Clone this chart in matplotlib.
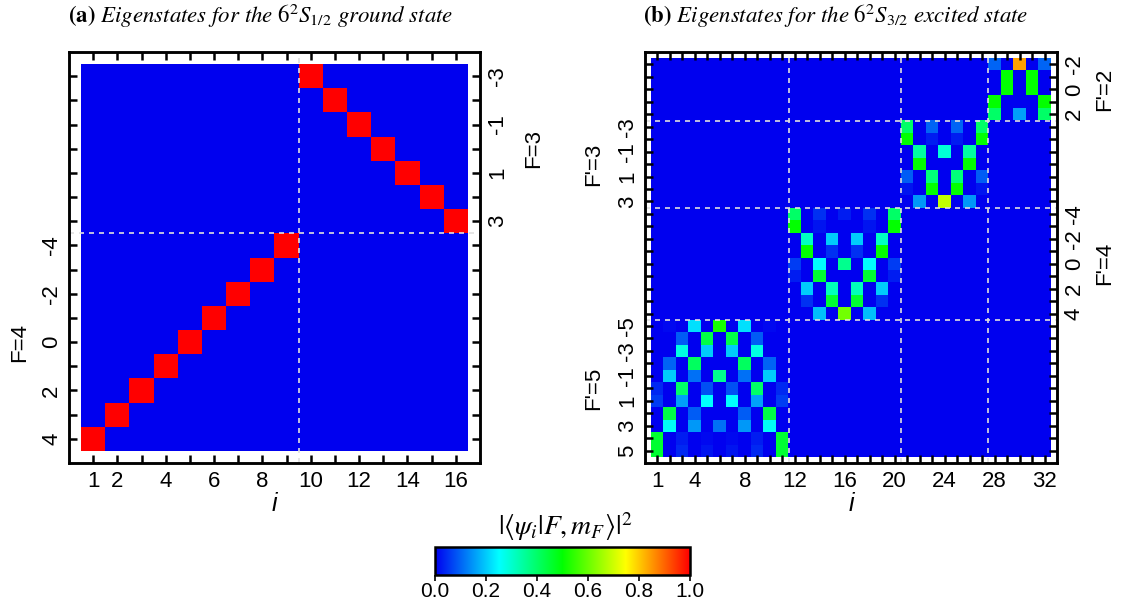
import numpy as np
import matplotlib
matplotlib.use('Agg')
import matplotlib.pyplot as plt
from matplotlib.colors import LinearSegmentedColormap

plt.rcParams['font.family'] = ['Liberation Sans', 'DejaVu Sans']
plt.rcParams['mathtext.fontset'] = 'stix'

# ground state (a): eigenstate i sits on one basis row (1 = bottom) with weight 1
ground_rows = [1, 2, 3, 4, 5, 6, 7, 8, 9, 16, 15, 14, 13, 12, 11, 10]
ground_vals = [1.0, 1.0, 1.0, 1.0, 1.0, 1.0, 1.0, 1.0, 1.0,
               1.0, 1.0, 1.0, 1.0, 1.0, 1.0, 1.0]

# excited state (b): blocks, top row (most negative m) first
block_f5 = [
    [0.00, 0.01, 0.00, 0.22, 0.00, 0.52, 0.00, 0.22, 0.00, 0.01, 0.00],
    [0.00, 0.00, 0.09, 0.00, 0.43, 0.00, 0.43, 0.00, 0.09, 0.00, 0.00],
    [0.00, 0.00, 0.28, 0.00, 0.20, 0.00, 0.20, 0.00, 0.28, 0.00, 0.00],
    [0.00, 0.10, 0.00, 0.41, 0.00, 0.00, 0.00, 0.41, 0.00, 0.10, 0.00],
    [0.00, 0.20, 0.00, 0.11, 0.00, 0.36, 0.00, 0.11, 0.00, 0.20, 0.00],
    [0.04, 0.00, 0.40, 0.00, 0.08, 0.00, 0.08, 0.00, 0.40, 0.00, 0.04],
    [0.06, 0.00, 0.16, 0.00, 0.25, 0.00, 0.25, 0.00, 0.16, 0.00, 0.06],
    [0.00, 0.43, 0.00, 0.09, 0.00, 0.00, 0.00, 0.09, 0.00, 0.43, 0.00],
    [0.00, 0.26, 0.00, 0.15, 0.00, 0.11, 0.00, 0.15, 0.00, 0.26, 0.00],
    [0.45, 0.00, 0.03, 0.00, 0.01, 0.00, 0.01, 0.00, 0.03, 0.00, 0.45],
    [0.45, 0.00, 0.04, 0.00, 0.02, 0.00, 0.02, 0.00, 0.04, 0.00, 0.45],
]
block_f4 = [
    [0.40, 0.00, 0.05, 0.00, 0.03, 0.00, 0.05, 0.00, 0.40],
    [0.50, 0.00, 0.02, 0.00, 0.00, 0.00, 0.02, 0.00, 0.50],
    [0.00, 0.31, 0.00, 0.20, 0.00, 0.20, 0.00, 0.31, 0.00],
    [0.00, 0.50, 0.00, 0.05, 0.00, 0.05, 0.00, 0.50, 0.00],
    [0.06, 0.00, 0.25, 0.00, 0.36, 0.00, 0.25, 0.00, 0.06],
    [0.03, 0.00, 0.45, 0.00, 0.00, 0.00, 0.45, 0.00, 0.03],
    [0.00, 0.20, 0.00, 0.32, 0.00, 0.32, 0.00, 0.20, 0.00],
    [0.00, 0.05, 0.00, 0.45, 0.00, 0.45, 0.00, 0.05, 0.00],
    [0.00, 0.00, 0.19, 0.00, 0.61, 0.00, 0.19, 0.00, 0.00],
]
block_f3 = [
    [0.40, 0.00, 0.10, 0.00, 0.10, 0.00, 0.40],
    [0.50, 0.00, 0.03, 0.00, 0.03, 0.00, 0.50],
    [0.00, 0.34, 0.00, 0.29, 0.00, 0.34, 0.00],
    [0.00, 0.50, 0.00, 0.00, 0.00, 0.50, 0.00],
    [0.09, 0.00, 0.38, 0.00, 0.38, 0.00, 0.09],
    [0.02, 0.00, 0.50, 0.00, 0.50, 0.00, 0.02],
    [0.00, 0.15, 0.00, 0.69, 0.00, 0.15, 0.00],
]
block_f2 = [
    [0.10, 0.00, 0.84, 0.00, 0.10],
    [0.00, 0.50, 0.00, 0.50, 0.00],
    [0.00, 0.50, 0.00, 0.50, 0.00],
    [0.50, 0.00, 0.00, 0.00, 0.50],
    [0.40, 0.00, 0.16, 0.00, 0.40],
]

# tick labels
ground_xlabels = {1: '1', 2: '2', 4: '4', 6: '6', 8: '8', 10: '10', 12: '12', 14: '14', 16: '16'}
ground_left = {1: '4', 3: '2', 5: '0', 7: '-2', 9: '-4'}
ground_right = {10: '3', 12: '1', 14: '-1', 16: '-3'}
excited_xlabels = {1: '1', 4: '4', 8: '8', 12: '12', 16: '16', 20: '20', 24: '24', 28: '28', 32: '32'}
excited_left = {1: '5', 3: '3', 5: '1', 7: '-1', 9: '-3', 11: '-5',
                21: '3', 23: '1', 25: '-1', 27: '-3'}
excited_right = {12: '4', 14: '2', 16: '0', 18: '-2', 20: '-4',
                 28: '2', 30: '0', 32: '-2'}

cmap = LinearSegmentedColormap.from_list(
    'rb', [(0.0, (0, 0, 0.94)), (0.25, (0, 1, 1)), (0.5, (0, 1, 0)),
           (0.75, (1, 1, 0)), (1.0, (1, 0, 0))])

# assemble matrices
n_a = len(ground_rows)
ground = np.zeros((n_a, n_a))
for i, r in enumerate(ground_rows):
    ground[r - 1, i] = ground_vals[i]

blocks = [block_f5, block_f4, block_f3, block_f2]
n_b = sum(len(b) for b in blocks)
excited = np.zeros((n_b, n_b))
off = 0
for b in blocks:
    b = np.flipud(np.array(b))
    k = b.shape[0]
    excited[off:off + k, off:off + k] = b
    off += k

W, H = 1127, 608
FS = 16
fig = plt.figure(figsize=(W / 100, H / 100), dpi=100)


def setup(ax, mat, xlabels, left, right, seps):
    n = mat.shape[0]
    ax.imshow(mat, cmap=cmap, vmin=0, vmax=1, origin='lower',
              extent=(0.5, n + 0.5, 0.5, n + 0.5), aspect='auto', interpolation='nearest')
    ax.set_xlim(0, n + 1)
    ax.set_ylim(0, n + 1)
    for s in seps:
        ax.axvline(s, color='#e0e0e0', lw=1.2, ls=(0, (3, 3)))
        ax.axhline(s, color='#e0e0e0', lw=1.2, ls=(0, (3, 3)))
    pos = list(range(1, n + 1))
    ax.set_xticks(pos)
    ax.set_xticklabels([xlabels.get(p, '') for p in pos], fontsize=FS)
    ax.set_yticks(pos)
    ax.set_yticklabels([left.get(p, '') for p in pos], fontsize=FS, rotation=90, va='center')
    ax.tick_params(direction='in', length=6, width=1.8, top=True, pad=6)
    ax.tick_params(axis='y', pad=5)
    ax2 = ax.twinx()
    ax2.set_ylim(0, n + 1)
    ax2.set_yticks(pos)
    ax2.set_yticklabels([right.get(p, '') for p in pos], fontsize=FS, rotation=90, va='center')
    ax2.tick_params(direction='in', length=6, width=1.8, pad=5)
    for a in (ax, ax2):
        for sp in a.spines.values():
            sp.set_linewidth(1.8)
    ax.set_xlabel('i', fontsize=18, style='italic', labelpad=0)
    return ax2


ax_a = fig.add_axes([69 / W, 1 - 463 / H, 411 / W, 411 / H])
setup(ax_a, ground, ground_xlabels, ground_left, ground_right, [9.5])
tr = ax_a.get_yaxis_transform()
ax_a.text(-0.12, 5, 'F=4', transform=tr, rotation=90, fontsize=FS, ha='center', va='center')
ax_a.text(1.13, 13, 'F=3', transform=tr, rotation=90, fontsize=FS, ha='center', va='center')

ax_b = fig.add_axes([645 / W, 1 - 463 / H, 412 / W, 411 / H])
setup(ax_b, excited, excited_xlabels, excited_left, excited_right, [11.5, 20.5, 27.5])
tr = ax_b.get_yaxis_transform()
ax_b.text(-0.125, 6, "F'=5", transform=tr, rotation=90, fontsize=FS, ha='center', va='center')
ax_b.text(-0.125, 24, "F'=3", transform=tr, rotation=90, fontsize=FS, ha='center', va='center')
ax_b.text(1.115, 16, "F'=4", transform=tr, rotation=90, fontsize=FS, ha='center', va='center')
ax_b.text(1.115, 30, "F'=2", transform=tr, rotation=90, fontsize=FS, ha='center', va='center')

fig.text(68 / W, 1 - 16 / H, r'$\mathbf{(a)}$ Eigenstates for the $6^2S_{1/2}$ ground state',
         family='STIXGeneral', style='italic', fontsize=16.5, ha='left', va='center')
fig.text(643 / W, 1 - 16 / H, r'$\mathbf{(b)}$ Eigenstates for the $6^2S_{3/2}$ excited state',
         family='STIXGeneral', style='italic', fontsize=16.5, ha='left', va='center')

cax = fig.add_axes([435 / W, 1 - 575 / H, 255 / W, 28 / H])
sm = matplotlib.cm.ScalarMappable(cmap=cmap, norm=matplotlib.colors.Normalize(0, 1))
cb = fig.colorbar(sm, cax=cax, orientation='horizontal', ticks=[0, 0.2, 0.4, 0.6, 0.8, 1.0])
cb.ax.set_xticklabels(['0.0', '0.2', '0.4', '0.6', '0.8', '1.0'], fontsize=15)
cb.ax.tick_params(length=4, width=1.2, pad=1)
cb.outline.set_linewidth(1.8)
fig.text(565 / W, 1 - 527 / H, r'$|\langle\psi_i|F,m_F\rangle|^2$', fontsize=20,
         ha='center', va='center')

fig.savefig('out.png', dpi=100)
